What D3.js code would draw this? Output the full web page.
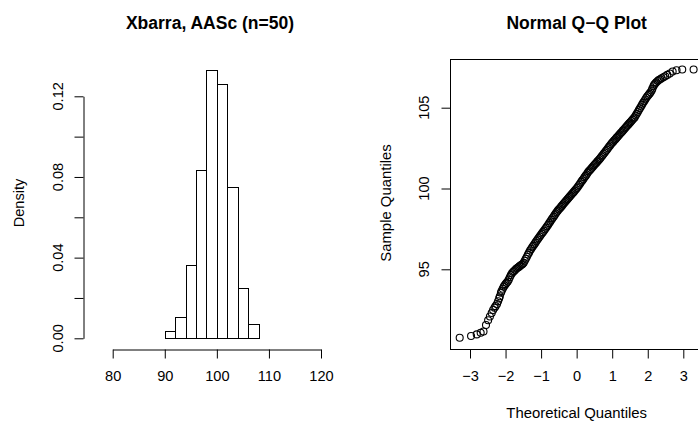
<!DOCTYPE html>
<html><head><meta charset="utf-8">
<script src="https://cdn.jsdelivr.net/npm/d3@7"></script>
<style>
html,body{margin:0;padding:0;background:#fff;}
svg{display:block;font-family:"Liberation Sans",Arial,sans-serif;}
</style></head>
<body>
<svg id="c" width="698" height="425"></svg>
<script>
// ---- Histogram data ----
const histTitle = "Xbarra, AASc (n=50)";
const binEdges = [90, 92, 94, 96, 98, 100, 102, 104, 106, 108];
const densities = [0.0035, 0.0105, 0.0365, 0.0835, 0.133, 0.126, 0.075, 0.025, 0.007];
const histXTicks = [80, 90, 100, 110, 120];
const histYTicks = [0, 0.02, 0.04, 0.06, 0.08, 0.10, 0.12];
const histYLabels = [0, 0.04, 0.08, 0.12];

// ---- Q-Q data (theoretical quantile, sample quantile) ----
const qqTitle = "Normal Q\u2212Q Plot";
const qqTheo = [
-3.29,-2.97,-2.81,-2.70,-2.62,-2.55,-2.49,-2.44,-2.39,-2.35,-2.31,-2.28,-2.24,-2.21,-2.18,-2.16,-2.13,-2.11,-2.08,-2.05,-2.03,
-2.00,-1.97,-1.94,-1.91,-1.88,-1.85,-1.82,-1.79,-1.76,-1.73,-1.70,-1.67,-1.64,-1.61,-1.58,-1.55,-1.52,-1.49,-1.46,-1.43,-1.40,
-1.37,-1.34,-1.31,-1.28,-1.25,-1.22,-1.19,-1.16,-1.13,-1.10,-1.07,-1.04,-1.01,-0.98,-0.95,-0.92,-0.89,-0.86,-0.83,-0.80,-0.77,
-0.74,-0.71,-0.68,-0.65,-0.62,-0.59,-0.56,-0.53,-0.50,-0.47,-0.44,-0.41,-0.38,-0.35,-0.32,-0.29,-0.26,-0.23,-0.20,-0.17,-0.14,
-0.11,-0.08,-0.05,-0.02,0.01,0.04,0.07,0.10,0.13,0.16,0.19,0.22,0.25,0.28,0.31,0.34,0.37,0.40,0.43,0.46,0.49,0.52,0.55,0.58,
0.61,0.64,0.67,0.70,0.73,0.76,0.79,0.82,0.85,0.88,0.91,0.94,0.97,1.00,1.03,1.06,1.09,1.12,1.15,1.18,1.21,1.24,1.27,1.30,1.33,
1.36,1.39,1.42,1.45,1.48,1.51,1.54,1.57,1.60,1.63,1.66,1.69,1.72,1.75,1.78,1.81,1.84,1.87,1.90,1.93,1.96,1.99,2.02,2.05,2.08,
2.11,2.13,2.16,2.18,2.21,2.24,2.28,2.31,2.35,2.39,2.44,2.49,2.55,2.62,2.70,2.81,2.97,3.29];
const qqSample = [
90.76,90.87,90.97,91.07,91.15,91.55,91.85,92.08,92.30,92.48,92.62,92.72,92.85,93.02,93.20,93.33,93.55,93.66,93.80,93.92,94.00,
94.08,94.16,94.24,94.36,94.51,94.65,94.76,94.83,94.89,94.96,95.03,95.08,95.13,95.18,95.23,95.28,95.33,95.40,95.53,95.65,95.78,
95.91,96.03,96.16,96.26,96.36,96.45,96.55,96.65,96.75,96.84,96.94,97.03,97.12,97.21,97.30,97.39,97.48,97.57,97.66,97.76,97.86,
97.96,98.06,98.16,98.25,98.35,98.45,98.55,98.63,98.71,98.78,98.86,98.94,99.02,99.10,99.18,99.25,99.33,99.41,99.49,99.56,99.64,
99.72,99.79,99.87,99.95,100.03,100.12,100.22,100.31,100.41,100.50,100.59,100.69,100.78,100.87,100.97,101.06,101.13,101.21,101.28,101.36,101.44,101.51,101.58,101.66,
101.73,101.81,101.89,101.98,102.06,102.15,102.23,102.32,102.40,102.49,102.58,102.66,102.75,102.83,102.90,102.98,103.05,103.13,103.20,103.28,103.35,103.43,103.50,103.58,103.65,
103.73,103.80,103.88,103.95,104.03,104.10,104.18,104.25,104.33,104.40,104.51,104.62,104.73,104.85,104.96,105.07,105.19,105.30,105.40,105.51,105.62,105.71,105.79,105.87,105.95,
106.06,106.18,106.33,106.42,106.50,106.57,106.65,106.71,106.76,106.82,106.88,106.95,107.03,107.12,107.24,107.32,107.36,107.36];
const qqXTicks = [-3, -2, -1, 0, 1, 2, 3];
const qqYTicks = [95, 100, 105];

const svg = d3.select("#c");
const FS = 14.6;
const ink = "#000";

// ================= LEFT: histogram =================
const hx = d3.scaleLinear().domain([80, 120]).range([112.7, 321]);
const hy = d3.scaleLinear().domain([0, 0.12]).range([338.3, 96.3]);

const bins = densities.map((d, i) => ({x0: binEdges[i], x1: binEdges[i + 1], d}));
svg.append("g").selectAll("rect").data(bins).join("rect")
  .attr("x", d => Math.round(hx(d.x0)) + 0.5)
  .attr("y", d => Math.round(hy(d.d)) + 0.5)
  .attr("width", d => Math.round(hx(d.x1)) - Math.round(hx(d.x0)))
  .attr("height", d => Math.round(hy(0)) - Math.round(hy(d.d)))
  .attr("fill", "#fff").attr("stroke", ink).attr("stroke-width", 1);

svg.append("g").attr("transform", "translate(0,349.5)")
  .call(d3.axisBottom(hx).tickValues(histXTicks).tickSize(9).tickPadding(12).tickSizeOuter(0));
svg.append("g").attr("transform", "translate(83.5,0)")
  .call(d3.axisLeft(hy).tickValues(histYTicks).tickSize(9).tickFormat("").tickSizeOuter(0));
svg.append("g").selectAll("text").data(histYLabels).join("text")
  .attr("transform", d => `translate(62.5,${hy(d)}) rotate(-90)`)
  .attr("text-anchor", "middle").attr("font-size", FS).attr("fill", ink)
  .text(d => d3.format(".2f")(d));

svg.append("text").attr("x", 210).attr("y", 29).attr("text-anchor", "middle")
  .attr("font-size", 17.5).attr("font-weight", "bold").text(histTitle);
svg.append("text").attr("transform", "translate(24,203) rotate(-90)")
  .attr("text-anchor", "middle").attr("font-size", FS).text("Density");

// ================= RIGHT: Q-Q plot =================
const qx = d3.scaleLinear().domain([-3, 3]).range([470, 683.3]);
const qy = d3.scaleLinear().domain([95, 105]).range([269.3, 107.7]);

svg.append("rect").attr("x", 450.5).attr("y", 59.5)
  .attr("width", qx(3.5625) - 450.5).attr("height", 290)
  .attr("fill", "none").attr("stroke", ink).attr("stroke-width", 1);

const qpts = qqTheo.map((t, i) => [t, qqSample[i]]);
svg.append("g").selectAll("circle").data(qpts).join("circle")
  .attr("cx", d => qx(d[0])).attr("cy", d => qy(d[1])).attr("r", 3.5)
  .attr("fill", "none").attr("stroke", ink).attr("stroke-width", 1.1);

const qxAxis = svg.append("g").attr("transform", "translate(0,349.5)")
  .call(d3.axisBottom(qx).tickValues(qqXTicks).tickSize(9).tickPadding(12).tickSizeOuter(0)
    .tickFormat(d => d < 0 ? "\u2212" + Math.abs(d) : String(d)));
qxAxis.select(".domain").remove();
const qyAxis = svg.append("g").attr("transform", "translate(450.5,0)")
  .call(d3.axisLeft(qy).tickValues(qqYTicks).tickSize(9).tickFormat("").tickSizeOuter(0));
qyAxis.select(".domain").remove();
svg.append("g").selectAll("text").data(qqYTicks).join("text")
  .attr("transform", d => `translate(428.5,${qy(d)}) rotate(-90)`)
  .attr("text-anchor", "middle").attr("font-size", FS).attr("fill", ink)
  .text(d => d);

svg.append("text").attr("x", 576.7).attr("y", 29).attr("text-anchor", "middle")
  .attr("font-size", 17.5).attr("font-weight", "bold").text(qqTitle);
svg.append("text").attr("x", 576.7).attr("y", 418).attr("text-anchor", "middle")
  .attr("font-size", 14.9).text("Theoretical Quantiles");
svg.append("text").attr("transform", "translate(391,203) rotate(-90)")
  .attr("text-anchor", "middle").attr("font-size", 14.9).text("Sample Quantiles");

svg.selectAll(".tick text").attr("font-size", FS).attr("fill", ink)
  .attr("font-family", "Liberation Sans, Arial, sans-serif");
svg.selectAll(".tick line, .domain").attr("stroke", ink);
</script>
</body></html>
